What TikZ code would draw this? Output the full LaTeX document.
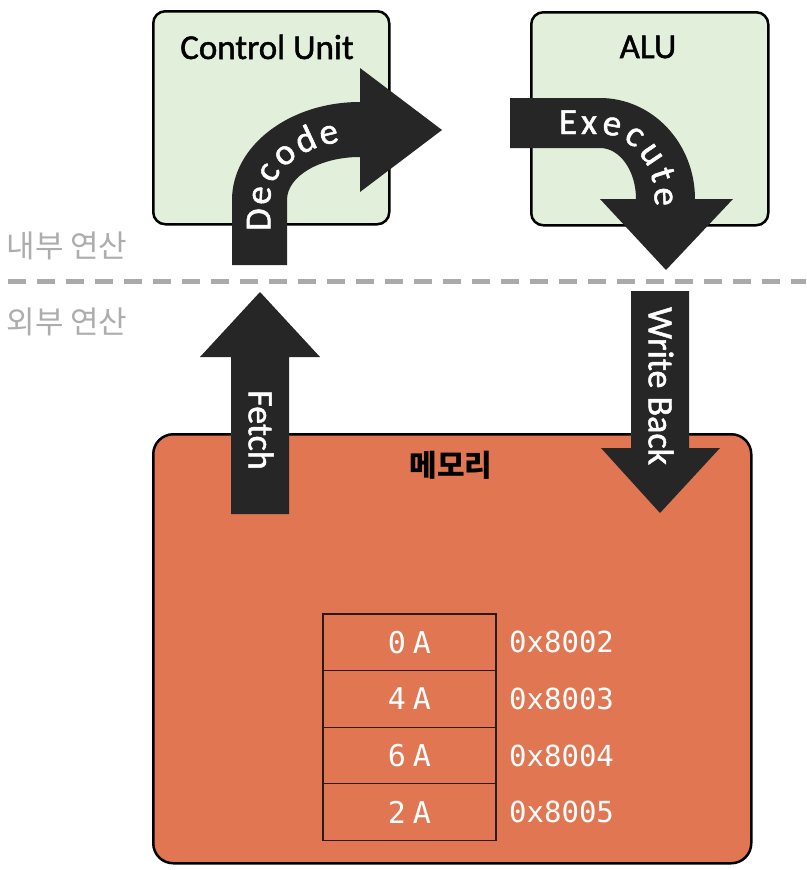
\documentclass[tikz,border=0pt]{standalone}
\usepackage{fontspec}
\setmainfont{Carlito}
\newfontfamily\kr{Noto Sans CJK KR}
\newfontfamily\monof{DejaVu Sans Mono}
\newfontfamily\semib[FakeBold=1.3]{Carlito}
\usetikzlibrary{decorations.text}
\definecolor{boxgreen}{HTML}{E2EFDA}
\definecolor{memorange}{HTML}{E17652}
\definecolor{arrowdark}{HTML}{262626}
\definecolor{labelgray}{HTML}{ADADAD}
\definecolor{dashgray}{HTML}{AAAAAA}
\definecolor{cellline}{HTML}{2B1A12}
\tikzset{
  unitbox/.style={draw=black, line width=2.5pt, fill=boxgreen, rounded corners=12pt},
  membox/.style={draw=black, line width=2.5pt, fill=memorange, rounded corners=20pt},
  title/.style={font=\semib\fontsize{35}{35}\selectfont, text=black},
  sidelabel/.style={font=\kr\fontsize{31}{31}\selectfont, text=labelgray},
  arrowshape/.style={fill=arrowdark},
  arrowtext/.style={font=\semib\fontsize{36}{36}\selectfont, text=white, rotate=-90},
  cell/.style={draw=cellline, line width=1.3pt, minimum width=173pt, minimum height=56.6pt, inner sep=0pt,
               font=\monof\fontsize{30}{30}\selectfont, text=white},
  addr/.style={anchor=west, inner sep=0pt, font=\monof\fontsize{29}{29}\selectfont, text=white},
}
\begin{document}
\begin{tikzpicture}[x=1pt, y=-1pt]
\useasboundingbox (0,0) rectangle (806,870);
\fill[white] (0,0) rectangle (806,870);

% boxes
\node[unitbox, minimum width=236pt, minimum height=213pt, anchor=north west] (cu) at (152,10) {};
\node[unitbox, minimum width=237pt, minimum height=213pt, anchor=north west] (alu) at (530,11) {};
\node[membox, minimum width=598pt, minimum height=429pt, anchor=north west] (mem) at (152,433) {};

\node[title] (cutitle) at (267,47) {Control Unit};
\node[title] (alutitle) at (648,47) {ALU};
\node[font=\kr\bfseries\fontsize{30}{30}\selectfont] (memtitle) at (451,465) {메모리};

% divider
\draw[dashgray, line width=5pt, dash pattern=on 18pt off 11pt] (8,281) -- (806,281);
\node[sidelabel] (inner) at (67,246) {내부 연산};
\node[sidelabel] (outer) at (67,322) {외부 연산};

% Decode arrow
\fill[arrowshape] (232,265) -- (232,200) arc[start angle=180, end angle=90, x radius=128pt, y radius=98pt]
  -- (360,68) -- (442,130) -- (360,192) -- (360,157)
  arc[start angle=90, end angle=180, x radius=73pt, y radius=43pt] -- (287,265) -- cycle;
\path[decorate, decoration={text along path,
   text={|\semib\fontsize{37}{37}\selectfont\color{white}\kern3pt|Decode}}]
  (270.5,234) -- (270.5,200) arc[start angle=180, end angle=90, x radius=89.5pt, y radius=59.5pt] -- (420,140.5);

% Execute arrow
\fill[arrowshape] (510,98) -- (600,98) arc[start angle=90, end angle=0, x radius=95pt, y radius=101pt]
  -- (733,199) -- (666,270) -- (600,199) -- (636,199)
  arc[start angle=0, end angle=90, x radius=36pt, y radius=51pt] -- (510,148) -- cycle;
\path[decorate, decoration={text along path,
   text={|\semib\fontsize{37}{37}\selectfont\color{white}\kern4pt|Execute}}]
  (555,134) -- (600,134) arc[start angle=90, end angle=0, x radius=54.5pt, y radius=65pt] -- (654.5,260);

% Fetch arrow
\fill[arrowshape] (231,514) -- (231,357) -- (200,357) -- (260,292) -- (320,357) -- (289,357) -- (289,514) -- cycle;
\node[arrowtext] (fetch) at (261,430) {Fetch};

% Write Back arrow
\fill[arrowshape] (631,291) -- (689,291) -- (689,448) -- (720,448) -- (660,513) -- (601,448) -- (631,448) -- cycle;
\node[arrowtext] (wb) at (661,386) {Write Back};

% memory table
\node[cell] (c1) at (409.5,642.3) {0\kern7pt A};
\node[cell] (c2) at (409.5,698.9) {4\kern7pt A};
\node[cell] (c3) at (409.5,755.5) {6\kern7pt A};
\node[cell] (c4) at (409.5,812.1) {2\kern7pt A};
\node[addr] (a1) at (509,642.3) {0x8002};
\node[addr] (a2) at (509,698.9) {0x8003};
\node[addr] (a3) at (509,755.5) {0x8004};
\node[addr] (a4) at (509,812.1) {0x8005};
\end{tikzpicture}
\end{document}
